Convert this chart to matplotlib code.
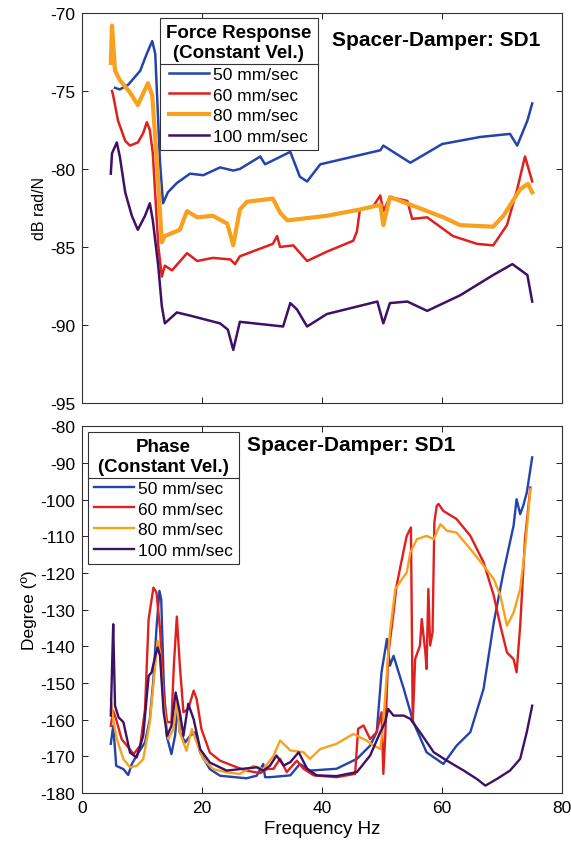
import numpy as np
import matplotlib
matplotlib.use("Agg")
import matplotlib.pyplot as plt
from matplotlib.lines import Line2D

plt.rcParams['font.family'] = ['Liberation Sans', 'DejaVu Sans']
plt.rcParams['axes.unicode_minus'] = False

labels = ['50 mm/sec', '60 mm/sec', '80 mm/sec', '100 mm/sec']
colors = ['#2443ac', '#e01f1f', '#f7a11e', '#3e1066']

# ---- force response (dB rad/N) ----
f50_x = [5.5, 6.3, 7.7, 9.7, 10.8, 11.7, 12.2, 13.0, 13.5, 14.3, 15.8, 18.0, 20.2, 23.0, 25.2,
         26.3, 29.7, 30.5, 34.7, 36.3, 37.5, 39.7, 49.7, 50.2, 54.7, 60.0, 66.3, 71.3, 72.5, 74.2, 75.0]
f50_y = [-74.8, -74.9, -74.6, -73.7, -72.6, -71.8, -72.6, -79.6, -82.2, -81.5, -80.9, -80.3, -80.4, -79.9, -80.1,
         -80.0, -79.2, -79.7, -78.9, -80.5, -80.8, -79.7, -78.8, -78.5, -79.6, -78.4, -77.95, -77.75, -78.5, -76.9, -75.8]

f60_x = [5.0, 5.2, 6.0, 7.2, 8.0, 9.3, 10.2, 10.8, 11.3, 11.8, 12.7, 13.3, 13.8, 15.0, 17.5, 19.2, 21.8, 24.7, 25.5,
         26.3, 31.8, 32.5, 33.0, 35.2, 37.5, 40.8, 45.2, 45.8, 46.3, 48.5, 49.7, 50.2, 51.3, 54.2, 55.0, 57.5,
         61.8, 65.8, 68.5, 70.8, 72.5, 73.8, 75.0]
f60_y = [-75.0, -75.3, -76.9, -78.2, -78.5, -78.3, -77.7, -77.0, -77.5, -79.0, -84.9, -86.9, -86.2, -86.5, -85.4, -85.9, -85.7, -85.8, -86.1,
         -85.6, -84.8, -84.3, -85.0, -84.9, -85.9, -85.3, -84.6, -84.0, -82.6, -82.4, -81.7, -82.7, -81.8, -82.05, -83.2, -83.1,
         -84.3, -84.8, -84.9, -83.6, -81.3, -79.2, -80.8]

f80_x = [4.8, 5.0, 5.5, 6.3, 8.0, 9.3, 10.5, 11.0, 11.7, 12.5, 13.3, 13.8, 16.3, 17.5, 19.2, 21.8, 24.2, 25.2,
         26.3, 27.5, 31.8, 33.0, 34.2, 40.8, 46.3, 49.7, 50.2, 51.3, 57.5, 60.2, 63.0, 68.5, 70.2, 73.0, 74.3, 75.0]
f80_y = [-73.2, -70.8, -73.7, -74.3, -75.1, -75.9, -74.9, -74.5, -75.3, -79.6, -84.7, -84.3, -83.9, -82.7, -83.1, -83.0, -83.5, -84.9,
         -82.6, -82.1, -81.9, -82.8, -83.3, -83.0, -82.6, -82.3, -83.6, -81.8, -82.7, -83.1, -83.6, -83.7, -83.0, -81.3, -80.95, -81.5]

f100_x = [4.8, 5.0, 5.8, 6.3, 7.2, 8.3, 9.3, 10.5, 11.3, 11.8, 12.7, 13.3, 13.8, 15.8, 18.0, 23.0, 24.3, 25.2,
          26.3, 33.5, 34.7, 35.8, 37.5, 40.8, 49.2, 50.2, 51.3, 54.2, 57.5, 63.0, 68.5, 71.7, 74.2, 75.0]
f100_y = [-80.3, -79.0, -78.3, -79.2, -81.5, -83.0, -83.9, -83.0, -82.2, -83.3, -86.2, -88.8, -89.9, -89.2, -89.4, -89.9, -90.3, -91.6,
          -89.8, -90.1, -88.6, -89.0, -90.1, -89.3, -88.5, -89.9, -88.6, -88.5, -89.1, -88.1, -86.8, -86.1, -86.8, -88.5]

# ---- phase (degree) ----
p50_x = [4.8, 5.2, 5.7, 6.9, 7.7, 8.3, 9.4, 10.5, 11.3, 11.9, 12.4, 12.9, 13.2, 13.6, 14.1, 14.9, 15.5, 16.0, 16.3,
         17.2, 18.0, 18.8, 19.7, 21.3, 23.0, 27.4, 29.1, 30.2, 30.5, 31.3, 34.7, 36.3, 38.0, 42.4, 45.8, 48.0,
         49.1, 49.9, 50.8, 51.3, 51.9, 53.6, 55.2, 57.4, 60.2, 62.4, 64.7, 66.9, 68.6, 70.2, 71.9, 72.4, 73.0,
         73.5, 74.1, 75.0]
p50_y = [-166.6, -161.7, -172.6, -173.5, -175.1, -172.1, -169.0, -166.2, -159.9, -149.0, -135.3, -124.9, -127.2, -149.0, -164.4, -169.4, -164.4, -156.2, -163.5,
         -166.2, -164.4, -163.5, -169.0, -173.5, -175.3, -176.0, -175.3, -172.1, -175.7, -175.7, -175.2, -172.1, -173.9, -173.4, -170.7, -167.1,
         -163.4, -147.1, -138.0, -145.3, -142.6, -151.6, -160.7, -168.9, -172.1, -167.1, -163.4, -151.6, -133.5, -119.9, -107.1, -99.9, -104.0,
         -101.7, -98.1, -88.5]

p60_x = [4.8, 5.2, 5.7, 6.6, 8.6, 9.7, 10.5, 11.1, 11.9, 12.4, 13.0, 13.6, 14.2, 14.9, 15.3, 15.8, 16.3, 16.9, 17.7,
         18.6, 19.1, 19.9, 21.3, 23.0, 25.8, 27.4, 29.7, 30.8, 31.9, 33.0, 34.1, 35.8, 36.9, 38.6, 42.4, 45.5,
         46.0, 46.9, 48.0, 49.1, 49.9, 50.2, 50.5, 51.0, 51.9, 52.4, 53.3, 54.1, 54.8, 55.1, 55.5, 56.3, 56.6,
         57.2, 57.4, 57.7, 58.0, 58.4, 58.7, 59.1, 59.4, 60.2, 62.4, 64.7, 66.9, 68.6, 69.7, 70.8, 71.9, 72.4,
         73.0, 73.8, 74.7]
p60_y = [-161.7, -157.6, -160.0, -165.3, -169.4, -167.1, -157.1, -132.6, -124.0, -125.3, -135.3, -153.5, -160.7, -160.7, -145.3, -131.9, -145.3, -158.0, -157.1,
         -152.1, -154.4, -162.6, -169.0, -171.2, -173.0, -173.9, -174.6, -173.5, -173.4, -170.7, -174.3, -171.2, -173.4, -175.2, -175.7, -174.8,
         -162.5, -161.6, -165.3, -163.4, -158.0, -174.8, -165.3, -142.6, -130.8, -123.5, -116.2, -109.9, -107.6, -160.7, -143.5, -139.8, -132.6,
         -141.7, -146.2, -124.4, -139.8, -136.2, -106.2, -101.7, -101.2, -103.1, -105.3, -109.9, -117.1, -126.2, -134.4, -141.7, -143.5, -147.1,
         -134.4, -110.8, -96.7]

p80_x = [4.8, 5.2, 5.8, 6.9, 8.0, 9.1, 10.2, 11.3, 12.2, 12.6, 13.0, 13.6, 14.4, 15.2, 15.8, 16.3, 17.4, 18.3, 19.1,
         20.2, 21.9, 24.1, 26.3, 28.6, 30.2, 31.9, 33.0, 34.7, 36.9, 38.0, 39.7, 42.4, 45.2, 47.4, 48.6, 49.7,
         50.2, 50.8, 51.3, 52.2, 53.3, 54.1, 54.7, 55.8, 57.4, 58.6, 59.7, 60.8, 62.4, 64.7, 66.9, 68.6, 69.7,
         70.8, 71.9, 73.0, 73.8, 74.7]
p80_y = [-154.4, -159.9, -165.3, -170.8, -173.0, -172.6, -170.8, -160.7, -145.3, -138.5, -141.7, -156.2, -165.3, -162.6, -155.3, -163.5, -168.5, -162.6, -166.2,
         -170.8, -173.5, -174.4, -174.8, -172.6, -173.5, -169.9, -165.7, -168.4, -168.9, -170.7, -168.0, -166.6, -163.9, -165.7, -167.1, -168.0,
         -160.7, -147.1, -136.2, -124.4, -121.7, -119.9, -114.4, -110.8, -109.9, -110.8, -106.7, -108.5, -109.0, -113.5, -118.0, -121.7, -126.2,
         -134.4, -130.8, -124.4, -113.5, -97.2]

p100_x = [4.8, 5.1, 5.2, 5.5, 6.1, 6.9, 8.0, 9.1, 10.2, 11.1, 11.6, 12.2, 12.6, 13.0, 13.6, 14.2, 14.9, 15.6, 16.3,
          16.9, 17.7, 18.6, 19.7, 21.3, 24.1, 26.3, 29.1, 30.2, 31.3, 32.4, 33.6, 34.7, 36.1, 37.5, 39.1, 42.4,
          45.8, 48.0, 49.7, 50.5, 51.0, 51.9, 53.6, 54.7, 56.3, 58.6, 60.8, 63.6, 65.8, 67.2, 69.1, 71.3, 73.0,
          74.1, 75.0]
p100_y = [-158.9, -139.9, -134.0, -156.2, -159.4, -160.7, -169.0, -170.3, -164.4, -148.1, -147.1, -142.6, -140.3, -142.6, -158.0, -164.4, -161.7, -152.6, -158.0,
          -164.4, -155.7, -159.9, -168.1, -171.7, -173.9, -173.5, -173.0, -173.9, -172.6, -169.8, -172.5, -171.6, -168.9, -173.4, -175.2, -175.4,
          -174.3, -169.8, -163.4, -160.7, -157.1, -158.9, -158.9, -159.8, -163.4, -168.9, -171.2, -173.9, -176.2, -178.0, -176.2, -173.9, -170.7,
          -163.4, -156.2]

mag = [(f50_x, f50_y), (f60_x, f60_y), (f80_x, f80_y), (f100_x, f100_y)]
pha = [(p50_x, p50_y), (p60_x, p60_y), (p80_x, p80_y), (p100_x, p100_y)]
mag_lw = [1.8, 1.8, 3.0, 1.8]

fig = plt.figure(figsize=(5.71, 8.45), dpi=100)
ax1 = fig.add_axes([0.1436, 0.522, 0.841, 0.4614])
ax2 = fig.add_axes([0.1436, 0.0604, 0.841, 0.434])

for (x, y), c, lw, lab in zip(mag, colors, mag_lw, labels):
    ax1.plot(x, y, color=c, lw=lw, label=lab)
for (x, y), c, lab in zip(pha, colors, labels):
    ax2.plot(x, y, color=c, lw=1.7, label=lab)

ax1.set_xlim(0, 80)
ax1.set_ylim(-95, -70)
ax1.set_yticks(np.arange(-95, -69, 5))
ax1.set_xticks([0, 20, 40, 60, 80])
ax1.set_xticklabels([])
ax1.set_ylabel('dB rad/N', fontsize=11.5, labelpad=2)

ax2.set_xlim(0, 80)
ax2.set_ylim(-180, -80)
ax2.set_yticks(np.arange(-180, -79, 10))
ax2.set_xticks([0, 20, 40, 60, 80])
ax2.set_xlabel('Frequency Hz', fontsize=13.5, labelpad=4)
ax2.set_ylabel('Degree (º)', fontsize=12.5, labelpad=2)

for ax in (ax1, ax2):
    ax.tick_params(direction='in', top=True, right=True, labelsize=12.5, length=4, width=0.6, pad=5)
    for s in ax.spines.values():
        s.set_linewidth(0.8)
        s.set_color('#333333')

ax1.text(0.7375, 0.933, 'Spacer-Damper: SD1', transform=ax1.transAxes, ha='center', va='center',
         fontsize=15, fontweight='bold')
ax2.text(0.56, 0.951, 'Spacer-Damper: SD1', transform=ax2.transAxes, ha='center', va='center',
         fontsize=15, fontweight='bold')

leg_kw = dict(loc='upper left', fontsize=12.5, handlelength=2.3, handletextpad=0.25, borderpad=0.35,
              labelspacing=0.33, fancybox=False, framealpha=1, edgecolor='#333333', borderaxespad=0)
leg1 = ax1.legend(bbox_to_anchor=(0.1625, 0.987), title='Force Response\n(Constant Vel.)', **leg_kw)
leg2 = ax2.legend(bbox_to_anchor=(0.0125, 0.984), title='Phase\n(Constant Vel.)', **leg_kw)
for leg in (leg1, leg2):
    leg.get_title().set_fontweight('bold')
    leg.get_title().set_fontsize(13.5)
    leg.get_title().set_multialignment('center')
    leg.get_frame().set_linewidth(0.8)

# matlab-style separator under the legend title
fig.canvas.draw()
r = fig.canvas.get_renderer()
inv = fig.transFigure.inverted()
for leg in (leg1, leg2):
    fb = leg.get_frame().get_window_extent(r)
    tb = leg.get_title().get_window_extent(r)
    ysep = tb.y0 - 3
    (x0, y0) = inv.transform((fb.x0, ysep))
    (x1, _) = inv.transform((fb.x1, ysep))
    fig.add_artist(Line2D([x0, x1], [y0, y0], transform=fig.transFigure, color='#333333', lw=0.8))

fig.savefig('out.png', dpi=100)
